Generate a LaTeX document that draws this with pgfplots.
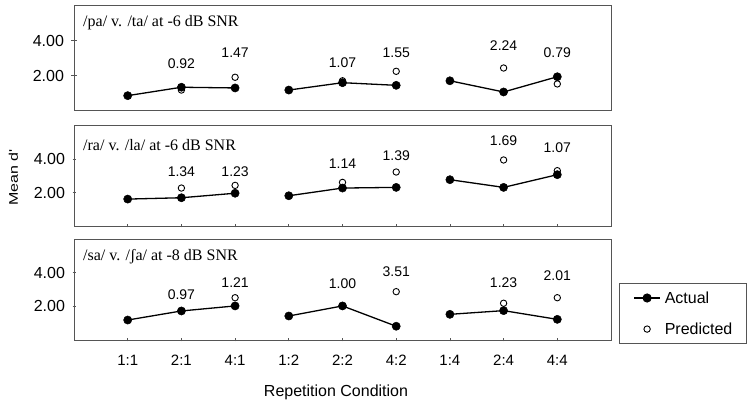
\documentclass[border=0pt]{standalone}
\usepackage{fontspec}
\setmainfont{Liberation Sans}
\newfontfamily\titlefont{Liberation Serif}
\usepackage{pgfplots}
\pgfplotsset{compat=1.18}
\definecolor{frame}{RGB}{85,85,85}
\pgfplotsset{
  panel/.style={
    scale only axis, width=537bp, anchor=south west,
    xmin=0, xmax=10, ymin=0, ymax=6,
    ytick={2,4},
    yticklabel={\pgfmathprintnumber[fixed,fixed zerofill,precision=2]{\tick}},
    /pgf/number format/assume math mode=true,
    tick label style={font=\fontsize{16bp}{18bp}\selectfont},
    yticklabel style={xshift=-4bp},
    axis line style={draw=frame, line width=0.9bp},
    tick style={draw=frame, line width=0.8bp},
    tick align=center, major tick length=5bp,
    ytick pos=left, xtick pos=bottom,
    unbounded coords=jump, clip=false,
  },
  act/.style={black, line width=1.3bp, mark=*, mark size=4.1bp, mark options={fill=black, draw=black, line width=0.5bp}},
  pred/.style={only marks, mark=o, mark size=3.2bp, mark options={draw=black, fill=white, line width=0.9bp}},
  lab/.style={draw=none, mark=none, nodes near coords, point meta=explicit symbolic,
    every node near coord/.append style={anchor=center, inner sep=0pt, font=\fontsize{14bp}{16bp}\selectfont}},
}
\begin{document}
\begin{tikzpicture}
\useasboundingbox (0bp,0bp) rectangle (754bp,409bp);
% Panel 1
\begin{axis}[panel, at={(74bp,298.3bp)}, height=105bp, xtick=\empty]
\addplot[pred] table {
x y
2 1.18
3 1.91
5 1.71
6 2.25
8 2.44
9 1.53
};
\addplot[act] table {
x y
1 0.86
2 1.34
3 1.30
3.5 nan
4 1.18
5 1.60
6 1.45
6.5 nan
7 1.71
8 1.07
9 1.94
};
\addplot[lab] table[meta=label] {
x y label
2 2.71 0.92
3 3.31 1.47
5 2.74 1.07
6 3.31 1.55
8 3.70 2.24
9 3.34 0.79
};
\node[anchor=west, inner sep=0pt, font=\titlefont\fontsize{16bp}{18bp}\selectfont] at (rel axis cs:0.0168,0.84) {/pa/ v. /ta/ at -6 dB SNR};
\end{axis}
% Panel 2
\begin{axis}[panel, at={(74bp,183bp)}, height=100.3bp, xtick={1,...,9}, xticklabels={}, major tick length=3bp]
\addplot[pred] table {
x y
2 2.27
3 2.43
5 2.61
6 3.23
8 3.95
9 3.31
};
\addplot[act] table {
x y
1 1.61
2 1.69
3 1.96
3.5 nan
4 1.81
5 2.27
6 2.31
6.5 nan
7 2.77
8 2.31
9 3.07
};
\addplot[lab] table[meta=label] {
x y label
2 3.25 1.34
3 3.25 1.23
5 3.75 1.14
6 4.20 1.39
8 5.10 1.69
9 4.68 1.07
};
\node[anchor=west, inner sep=0pt, font=\titlefont\fontsize{16bp}{18bp}\selectfont] at (rel axis cs:0.0168,0.81) {/ra/ v. /la/ at -6 dB SNR};
\end{axis}
% Panel 3
\begin{axis}[panel, at={(74bp,69bp)}, height=100.7bp, xtick={1,...,9},
  xticklabels={1:1,2:1,4:1,1:2,2:2,4:2,1:4,2:4,4:4},
  xticklabel style={font=\fontsize{15bp}{17bp}\selectfont, yshift=-10bp},
  major tick length=3bp,
  legend style={at={(1.0149,0.566)}, anchor=north west, draw=frame, line width=0.9bp,
    inner xsep=14bp, inner ysep=8bp, font=\fontsize{16bp}{18bp}\selectfont,
    nodes={inner sep=0pt, anchor=west}, row sep=18bp, column sep=4bp},
  legend cell align=left]
\addlegendimage{legend image code/.code={\draw[black, line width=1.3bp] (0bp,0bp) -- (26bp,0bp); \fill[black] (13bp,0bp) circle (4.1bp);}}
\addlegendentry{Actual}
\addlegendimage{legend image code/.code={\path[draw=none, fill=none] (0bp,-1bp) rectangle (26bp,1bp); \draw[black, line width=0.9bp, fill=white] (13bp,0bp) circle (3.2bp);}}
\addlegendentry{Predicted}
\addplot[pred] table {
x y
2 1.73
3 2.52
5 2.03
6 2.88
8 2.19
9 2.52
};
\addplot[act] table {
x y
1 1.19
2 1.73
3 2.03
3.5 nan
4 1.43
5 2.03
6 0.82
6.5 nan
7 1.53
8 1.75
9 1.23
};
\addplot[lab] table[meta=label] {
x y label
2 2.72 0.97
3 3.41 1.21
5 3.38 1.00
6 4.07 3.51
8 3.41 1.23
9 3.83 2.01
};
\node[anchor=west, inner sep=0pt, font=\titlefont\fontsize{16bp}{18bp}\selectfont] at (rel axis cs:0.0168,0.824) {/sa/ v. /ʃa/ at -8 dB SNR};
\end{axis}
\node[rotate=90, yscale=0.78, font=\fontsize{16bp}{18bp}\selectfont] at (13.3bp,231.5bp) {Mean d\textquotesingle};
\node[font=\fontsize{16bp}{18bp}\selectfont] at (336bp,16.5bp) {Repetition Condition};
\end{tikzpicture}
\end{document}
